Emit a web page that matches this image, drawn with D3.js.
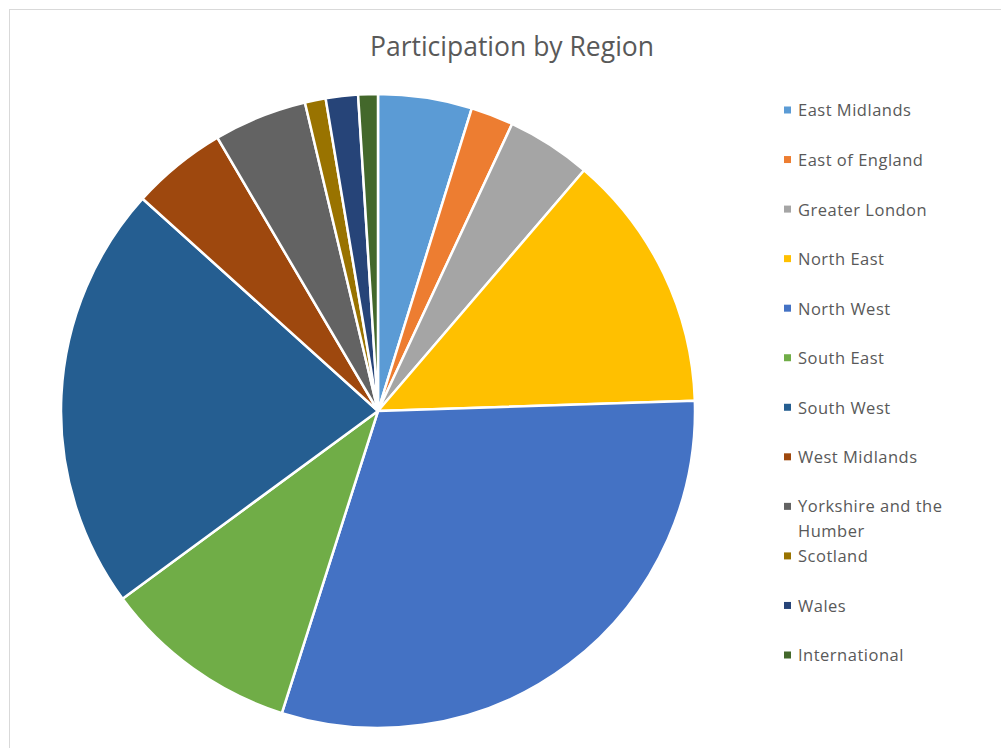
<!DOCTYPE html>
<html>
<head>
<meta charset="utf-8">
<script src="https://cdn.jsdelivr.net/npm/d3@7"></script>
<style>
  body { margin: 0; background: #fff; }
  svg { display: block; }
</style>
</head>
<body>
<div id="chart"></div>
<script>
// data (share of participants, %)
const regions = ["East Midlands", "East of England", "Greater London", "North East", "North West",
    "South East", "South West", "West Midlands", "Yorkshire and the Humber", "Scotland", "Wales", "International"];
const shares = [4.78, 2.17, 4.31, 13.2, 30.4, 10.0, 21.75, 4.86, 4.75, 1.06, 1.64, 1.0];
const colours = ["#5B9BD5", "#ED7D31", "#A5A5A5", "#FFC000", "#4472C4", "#70AD47",
    "#255E91", "#9E480E", "#636363", "#997300", "#264478", "#43682B"];

const width = 1001, height = 748;
const cx = 378, cy = 411, radius = 317;

const svg = d3.select("#chart").append("svg")
    .attr("width", width)
    .attr("height", height);

// chart area border
svg.append("rect")
    .attr("x", 9.5).attr("y", 9.5)
    .attr("width", width).attr("height", height)
    .attr("fill", "none")
    .attr("stroke", "#d9d9d9");

// title
svg.append("text")
    .attr("x", 512).attr("y", 49)
    .attr("text-anchor", "middle")
    .attr("dominant-baseline", "middle")
    .attr("font-family", "'Open Sans', sans-serif")
    .attr("font-size", "26.5px")
    .attr("fill", "#595959")
    .text("Participation by Region");

const data = regions.map((r, i) => ({ name: r, value: shares[i], colour: colours[i] }));

const pie = d3.pie().sort(null).value(d => d.value);
const arc = d3.arc().innerRadius(0).outerRadius(radius);

const g = svg.append("g").attr("transform", "translate(" + cx + "," + cy + ")");
g.selectAll("path")
    .data(pie(data))
    .join("path")
    .attr("d", arc)
    .attr("fill", d => d.data.colour)
    .attr("stroke", "#fff")
    .attr("stroke-width", 2.5)
    .attr("stroke-linejoin", "round");

// legend
const legendY = d3.scalePoint().domain(regions).range([110, 655]);
const legend = svg.append("g").attr("class", "legend");
const item = legend.selectAll("g")
    .data(data)
    .join("g")
    .attr("transform", d => "translate(784," + legendY(d.name) + ")");

item.append("rect")
    .attr("x", 0).attr("y", -3.5)
    .attr("width", 7).attr("height", 7)
    .attr("fill", d => d.colour);

item.append("text")
    .attr("x", 14).attr("y", 2)
    .attr("dominant-baseline", "middle")
    .attr("font-family", "'Open Sans', sans-serif")
    .attr("font-size", "16.5px")
    .attr("letter-spacing", "0.5px")
    .attr("fill", "#595959")
    .each(function (d) {
        const t = d3.select(this);
        if (d.name === "Yorkshire and the Humber") {
            t.append("tspan").attr("x", 14).attr("dy", 0).text("Yorkshire and the");
            t.append("tspan").attr("x", 14).attr("dy", 25).text("Humber");
        } else {
            t.text(d.name);
        }
    });
</script>
</body>
</html>
